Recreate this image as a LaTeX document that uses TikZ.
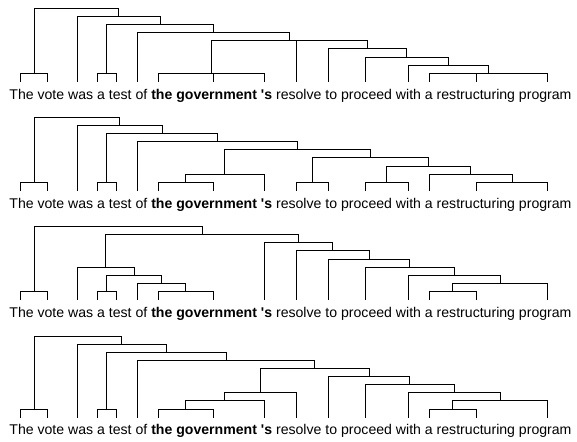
\documentclass[tikz,border=0pt]{standalone}
\usepackage{fontspec}
\setmainfont{Liberation Sans}
\usetikzlibrary{calc}
\tikzset{
  tl/.style={draw=black, line width=0.85pt, line cap=rect},
  words/.style={anchor=base west, inner sep=0pt, font=\fontsize{14.1}{16}\selectfont}
}
% sentence and leaf bottoms at y = #2
\newcommand\sentence[2]{%
  \foreach \xx [count=\ii] in {20.7, 47.7, 77.3, 97.3, 116, 137.7, 158.3, 213.3, 264,
      296, 328.7, 365, 408, 429, 476.7, 547.7}{%
    \coordinate (#1\ii) at (\xx,#2);
  }
  \node[words] (#1s) at (9.2,#2+17.8) {The vote was a test of \textbf{the government \textquotesingle s} resolve to proceed with a restructuring program};
}
% bracket: #1 name, #2 level, #3 first child, #4 last child, #5 all children
\newcommand\brk[5]{%
  \coordinate (mid) at ($(#3)!0.5!(#4)$);
  \coordinate (lev) at (0,{\yb-8.1*#2});
  \coordinate (#1) at (mid |- lev);
  \foreach \kid in {#5}{\draw[tl] (\kid) -- (\kid |- #1) -- (#1);}
}
\begin{document}
\begin{tikzpicture}[x=1pt,y=-1pt]
\useasboundingbox (0,0) rectangle (577,441);
% ---------- tree A
\def\yb{81.3}
\sentence{A}{81.3}
\brk{A17}{1}{A1}{A2}{A1,A2}
\brk{A18}{1}{A4}{A5}{A4,A5}
\brk{A19}{1}{A7}{A9}{A7,A8,A9}
\brk{A20}{1}{A14}{A16}{A14,A15,A16}
\brk{A21}{2}{A13}{A20}{A13,A20}
\brk{A22}{3}{A12}{A21}{A12,A21}
\brk{A23}{4}{A11}{A22}{A11,A22}
\brk{A24}{5}{A19}{A23}{A19,A10,A23}
\brk{A25}{6}{A6}{A24}{A6,A24}
\brk{A26}{7}{A18}{A25}{A18,A25}
\brk{A27}{8}{A3}{A26}{A3,A26}
\brk{A28}{9}{A17}{A27}{A17,A27}
% ---------- tree B
\def\yb{190.3}
\sentence{B}{190.3}
\brk{B17}{1}{B1}{B2}{B1,B2}
\brk{B18}{1}{B4}{B5}{B4,B5}
\brk{B19}{1}{B7}{B8}{B7,B8}
\brk{B20}{2}{B19}{B9}{B19,B9}
\brk{B21}{1}{B10}{B11}{B10,B11}
\brk{B22}{1}{B12}{B13}{B12,B13}
\brk{B23}{1}{B15}{B16}{B15,B16}
\brk{B24}{2}{B14}{B23}{B14,B23}
\brk{B25}{3}{B22}{B24}{B22,B24}
\brk{B26}{4}{B21}{B25}{B21,B25}
\brk{B27}{5}{B20}{B26}{B20,B26}
\brk{B28}{6}{B6}{B27}{B6,B27}
\brk{B29}{7}{B18}{B28}{B18,B28}
\brk{B30}{8}{B3}{B29}{B3,B29}
\brk{B31}{9}{B17}{B30}{B17,B30}
% ---------- tree C
\def\yb{299.5}
\sentence{C}{299.5}
\brk{C17}{1}{C1}{C2}{C1,C2}
\brk{C18}{1}{C4}{C5}{C4,C5}
\brk{C19}{1}{C7}{C8}{C7,C8}
\brk{C20}{2}{C6}{C19}{C6,C19}
\brk{C21}{3}{C18}{C20}{C18,C20}
\brk{C22}{4}{C3}{C21}{C3,C21}
\brk{C23}{1}{C14}{C15}{C14,C15}
\brk{C24}{2}{C23}{C16}{C23,C16}
\brk{C25}{3}{C13}{C24}{C13,C24}
\brk{C26}{4}{C12}{C25}{C12,C25}
\brk{C27}{5}{C11}{C26}{C11,C26}
\brk{C28}{6}{C10}{C27}{C10,C27}
\brk{C29}{7}{C9}{C28}{C9,C28}
\brk{C30}{8}{C22}{C29}{C22,C29}
\brk{C31}{9}{C17}{C30}{C17,C30}
% ---------- tree D
\def\yb{417.1}
\sentence{D}{417.1}
\brk{D17}{1}{D1}{D2}{D1,D2}
\brk{D18}{1}{D4}{D5}{D4,D5}
\brk{D19}{1}{D7}{D8}{D7,D8}
\brk{D20}{2}{D19}{D9}{D19,D9}
\brk{D21}{3}{D20}{D10}{D20,D10}
\brk{D22}{1}{D14}{D15}{D14,D15}
\brk{D23}{2}{D22}{D16}{D22,D16}
\brk{D24}{3}{D13}{D23}{D13,D23}
\brk{D25}{4}{D12}{D24}{D12,D24}
\brk{D26}{5}{D11}{D25}{D11,D25}
\brk{D27}{6}{D21}{D26}{D21,D26}
\brk{D28}{7}{D6}{D27}{D6,D27}
\brk{D29}{8}{D18}{D28}{D18,D28}
\brk{D30}{9}{D3}{D29}{D3,D29}
\brk{D31}{10}{D17}{D30}{D17,D30}
\end{tikzpicture}
\end{document}
